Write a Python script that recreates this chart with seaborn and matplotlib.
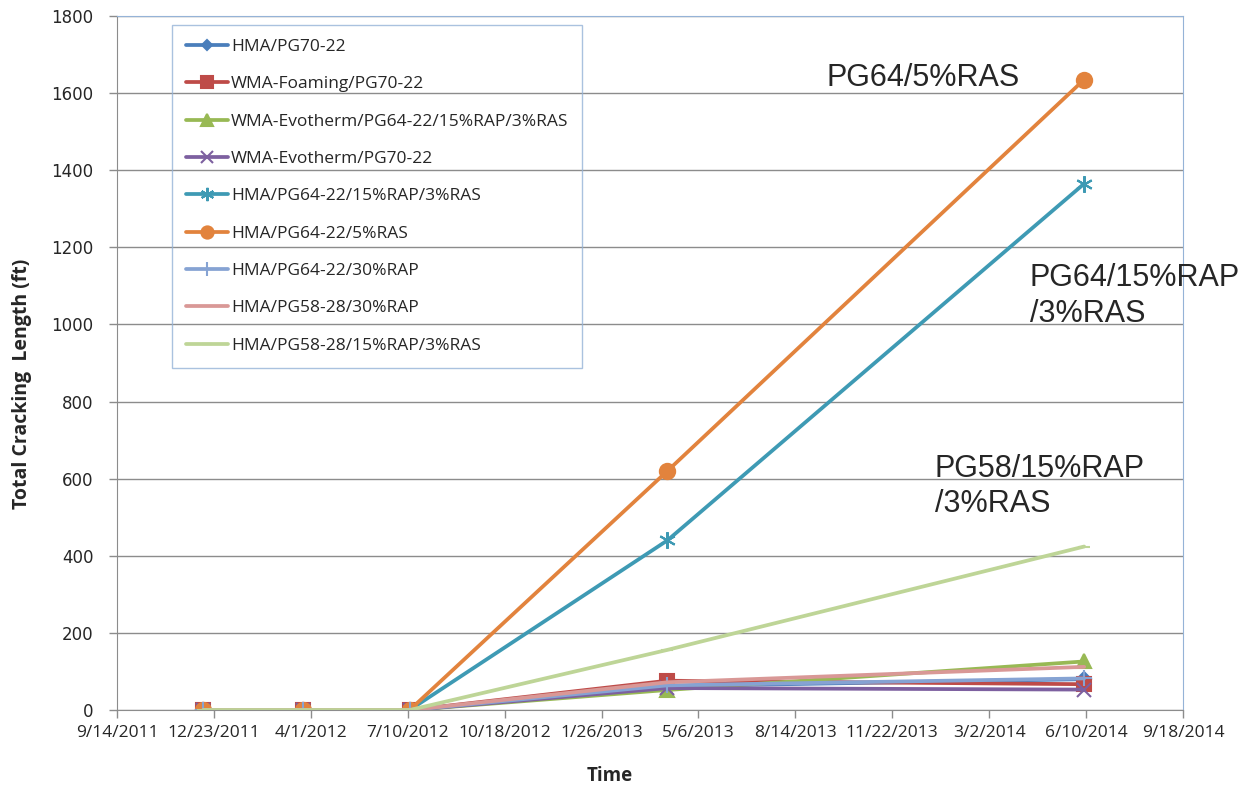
import pandas as pd
import numpy as np
import matplotlib
matplotlib.use('Agg')
import matplotlib.pyplot as plt
import seaborn as sns

# data
dates = pd.to_datetime(['2011-12-12', '2012-03-24', '2012-07-12', '2013-04-04', '2014-06-08'])

series_names = [
    'HMA/PG70-22',
    'WMA-Foaming/PG70-22',
    'WMA-Evotherm/PG64-22/15%RAP/3%RAS',
    'WMA-Evotherm/PG70-22',
    'HMA/PG64-22/15%RAP/3%RAS',
    'HMA/PG64-22/5%RAS',
    'HMA/PG64-22/30%RAP',
    'HMA/PG58-28/30%RAP',
    'HMA/PG58-28/15%RAP/3%RAS',
]

hma_pg70 = [0, 0, 0, 62, 80]
wma_foam = [0, 0, 0, 76, 67]
wma_evo_rap_ras = [0, 0, 0, 52, 126]
wma_evo_pg70 = [0, 0, 0, 57, 53]
hma_pg64_rap_ras = [0, 0, 0, 440, 1365]
hma_pg64_ras = [0, 0, 0, 620, 1635]
hma_pg64_rap = [0, 0, 0, 64, 82]
hma_pg58_rap = [0, 0, 0, 72, 112]
hma_pg58_rap_ras = [0, 0, 0, 156, 424]

values = [hma_pg70, wma_foam, wma_evo_rap_ras, wma_evo_pg70, hma_pg64_rap_ras,
          hma_pg64_ras, hma_pg64_rap, hma_pg58_rap, hma_pg58_rap_ras]

colors = ['#4A7EBB', '#BE4B48', '#98B954', '#7D60A0', '#3E9AB4',
          '#E2833D', '#86A3D3', '#D99896', '#BED597']
markers = ['D', 's', '^', 'x', (6, 2, 0), 'o', '+', '_', '_']
msizes = [7, 10, 10, 10, 12, 11, 12, 0, 9]

xticks = pd.date_range('2011-09-14', periods=12, freq='100D')
xtick_labels = [f'{d.month}/{d.day}/{d.year}' for d in xticks]

# curve labels: (text, date, value)
notes = [
    ('PG64/5%RAS', '2013-09-15', 1640),
    ('PG64/15%RAP\n/3%RAS', '2014-04-13', 1073),
    ('PG58/15%RAP\n/3%RAS', '2014-01-05', 580),
]

sns.set_style('white')
plt.rcParams['font.family'] = ['Open Sans', 'DejaVu Sans']

fig = plt.figure(figsize=(12.39, 7.87), dpi=100)
ax = fig.add_axes([0.0944, 0.0978, 0.8604, 0.8819])

for name, vals, c, m, ms in zip(series_names, values, colors, markers, msizes):
    df = pd.DataFrame({'date': dates, 'length': vals})
    sns.lineplot(data=df, x='date', y='length', ax=ax, color=c, lw=2.7,
                 marker=m, markersize=ms, markeredgecolor=c, markeredgewidth=1.5,
                 label=name)

ax.set_xlim(xticks[0], xticks[-1])
ax.set_ylim(0, 1800)
ax.set_xticks(xticks)
ax.set_xticklabels(xtick_labels, fontsize=12.5)
ax.set_yticks(np.arange(0, 1801, 200))
ax.set_yticklabels([str(v) for v in range(0, 1801, 200)], fontsize=12, family='DejaVu Sans')

ax.yaxis.grid(True, color='#8C8C8C', lw=1)
ax.xaxis.grid(False)
ax.set_axisbelow(True)
ax.tick_params(axis='both', direction='out', length=6, width=1, color='#8C8C8C',
               left=True, bottom=True)
ax.tick_params(axis='y', pad=11)
ax.tick_params(axis='x', pad=5)
for side in ['left', 'bottom']:
    ax.spines[side].set_color('#8C8C8C')
for side in ['top', 'right']:
    ax.spines[side].set_color('#95B3D7')

ax.set_xlabel('')
ax.set_ylabel('')
fig.text(610 / 1239, 1 - 776 / 787, 'Time', fontsize=13.5, fontweight='bold',
         ha='center', va='center')
fig.text(22 / 1239, 1 - 384 / 787, 'Total Cracking  Length (ft)', fontsize=14,
         fontweight='bold', rotation=90, ha='center', va='center')

for txt, d, v in notes:
    ax.text(pd.Timestamp(d), v, txt, fontsize=22, va='center', ha='left',
            family='Liberation Sans', linespacing=1.25)

leg = ax.legend(loc='upper left', bbox_to_anchor=(0.0516, 0.987), borderaxespad=0,
                fontsize=12.5, labelspacing=1.22, handlelength=2.4, handletextpad=0.2,
                frameon=True, fancybox=False, borderpad=0.8, markerscale=0.8)
leg.get_frame().set_facecolor('none')
leg.get_frame().set_edgecolor('#95B3D7')
leg.get_frame().set_linewidth(1)

plt.savefig('out.png', dpi=100)
plt.close()
